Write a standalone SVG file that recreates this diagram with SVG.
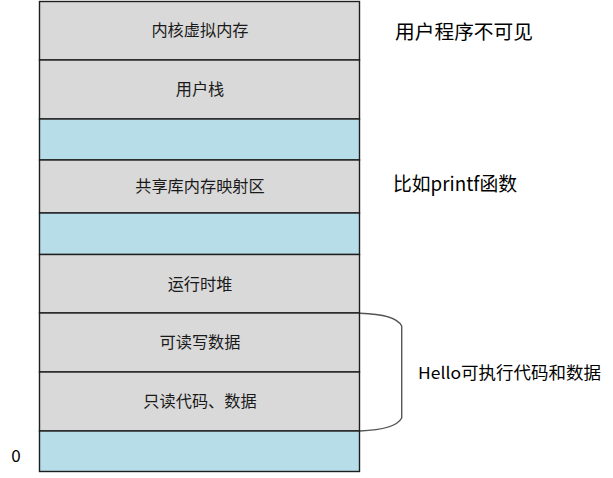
<svg xmlns="http://www.w3.org/2000/svg" width="613" height="478" viewBox="0 0 613 478">
<style>
.g{fill:#d9d9d9;stroke:#1e1e1e;stroke-width:1.4}
.b{fill:#b7dde8;stroke:#1e1e1e;stroke-width:1.4}
.t{font-family:"Microsoft YaHei","Noto Sans CJK SC","Noto Sans",sans-serif;font-size:16.2px;fill:#1a1a1a;text-anchor:middle;dominant-baseline:central}
.r{font-family:"Microsoft YaHei","Noto Sans CJK SC","Noto Sans",sans-serif;fill:#000;dominant-baseline:central}
</style>
<rect x="0" y="0" width="613" height="478" fill="#fff"/>
<g id="kernel"><rect class="g" x="39.5" y="1.5" width="320" height="58.5"/><text class="t" x="200" y="28.8">内核虚拟内存</text></g>
<g id="user-stack"><rect class="g" x="39.5" y="60" width="320" height="59"/><text class="t" x="200" y="88.3">用户栈</text></g>
<g id="gap1"><rect class="b" x="39.5" y="119" width="320" height="41"/></g>
<g id="shared-lib"><rect class="g" x="39.5" y="160" width="320" height="53"/><text class="t" x="200" y="185.3">共享库内存映射区</text></g>
<g id="gap2"><rect class="b" x="39.5" y="213" width="320" height="41.5"/></g>
<g id="heap"><rect class="g" x="39.5" y="254.5" width="320" height="58.5"/><text class="t" x="200" y="282.8">运行时堆</text></g>
<g id="rw-data"><rect class="g" x="39.5" y="313" width="320" height="59"/><text class="t" x="200" y="341.3">可读写数据</text></g>
<g id="ro-code"><rect class="g" x="39.5" y="372" width="320" height="59"/><text class="t" x="200" y="400.3">只读代码、数据</text></g>
<g id="gap3"><rect class="b" x="39.5" y="431" width="320" height="40.5"/></g>
<g id="connectors">
<path d="M360,313.3 C385,314 398,319 401.7,326 L401.7,418 C398,425 385,430 360,431" fill="none" stroke="#555" stroke-width="1.4"/>
</g>
<g id="labels">
<text class="r" x="395" y="30" font-size="19.5" textLength="138" lengthAdjust="spacingAndGlyphs">用户程序不可见</text>
<text class="r" x="393" y="182" font-size="19.5" textLength="124" lengthAdjust="spacingAndGlyphs">比如printf函数</text>
<text class="r" x="418" y="372" font-size="16.5" textLength="183" lengthAdjust="spacingAndGlyphs">Hello可执行代码和数据</text>
<text class="r" x="16" y="454.5" font-size="17" text-anchor="middle">0</text>
</g>
</svg>
